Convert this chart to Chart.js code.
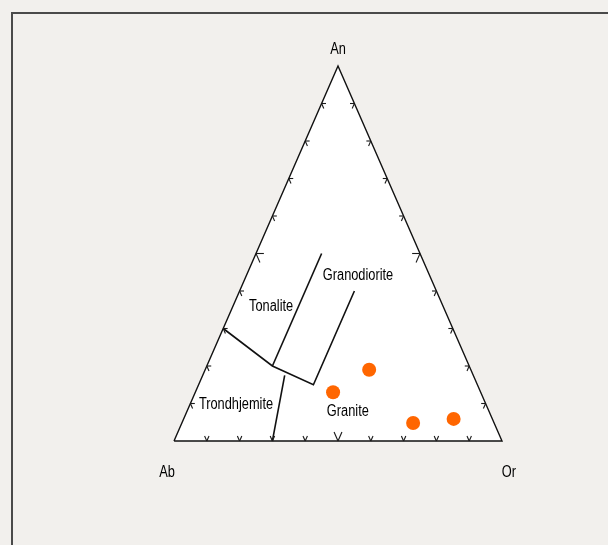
<!DOCTYPE html>
<html>
<head>
<meta charset="utf-8">
<script src="https://cdn.jsdelivr.net/npm/chart.js@4.4.1/dist/chart.umd.min.js"></script>
<style>
  html, body { margin: 0; padding: 0; background: #f2f0ed; overflow: hidden; }
  #wrap { position: relative; width: 608px; height: 545px; }
  #frame { position: absolute; left: 11px; top: 12px; width: 700px; height: 700px; border: 2px solid #4a4a4a; box-sizing: border-box; }
  canvas { position: absolute; left: 0; top: 0; }
</style>
</head>
<body>
<div id="wrap">
  <div id="frame"></div>
  <canvas id="c" width="608" height="545"></canvas>
</div>
<script>
// ---- Data (ternary percentages: An, Ab, Or) ----
const sampleAn = [19, 13, 4.8, 5.9];
const sampleAb = [31, 45, 24.7, 11.8];
const sampleOr = [50, 42, 70.5, 82.3];

// Field boundaries (An, Or; Ab = 100 - An - Or)
const boundary1An = [30, 20, 15, 40];
const boundary1Or = [0, 20, 35, 35];
const boundary2An = [20, 50];
const boundary2Or = [20, 20];
const boundary3An = [17.5, 0];
const boundary3Or = [25, 30];

// Tick positions along each edge (percent)
const tickValues = [10, 20, 30, 40, 50, 60, 70, 80, 90];

// Labels
const apexLabels = ['An', 'Ab', 'Or'];
const fieldLabels = ['Tonalite', 'Granodiorite', 'Trondhjemite', 'Granite'];

// ---- helpers ----
function tern(an, or) { return { x: (or + an / 2) / 100, y: an / 100 }; }
function line(anArr, orArr) { return anArr.map((a, i) => tern(a, orArr[i])); }

const trianglePts = [tern(0, 0), tern(0, 100), tern(100, 0), tern(0, 0)];
const samplePts = sampleAn.map((a, i) => tern(a, sampleOr[i]));

// label positions (cartesian fractions of triangle frame)
const apexPos = [{x: 0.5, y: 1.043}, {x: -0.021, y: -0.085}, {x: 1.021, y: -0.085}];
const fieldPos = [{x: 0.296, y: 0.358}, {x: 0.561, y: 0.442}, {x: 0.189, y: 0.096}, {x: 0.53, y: 0.078}];

const decoPlugin = {
  id: 'deco',
  afterDatasetsDraw(chart) {
    const ctx = chart.ctx, xs = chart.scales.x, ys = chart.scales.y;
    const px = p => ({ x: xs.getPixelForValue(p.x), y: ys.getPixelForValue(p.y) });
    // ticks
    ctx.save();
    ctx.strokeStyle = '#1a1a1a';
    ctx.lineWidth = 1.1;
    function arm(an, or, dAn, dOr, d) {
      const a = px(tern(an, or));
      const b = px(tern(an + dAn * d, or + dOr * d));
      ctx.beginPath(); ctx.moveTo(a.x, a.y); ctx.lineTo(b.x, b.y); ctx.stroke();
    }
    tickValues.forEach(t => {
      const d = t === 50 ? 2.4 : 1.35;
      arm(0, t, 1, 0, d);
      arm(0, t, 1, -1, d);
      arm(t, 0, 0, 1, d);
      arm(t, 0, -1, 1, d);
      arm(t, 100 - t, 0, -1, d);
      arm(t, 100 - t, -1, 0, d);
    });
    ctx.restore();
    // labels
    ctx.save();
    ctx.fillStyle = '#000';
    ctx.font = '16px "Liberation Sans", Arial, sans-serif';
    ctx.textAlign = 'center';
    ctx.textBaseline = 'middle';
    function txt(s, p) {
      const q = px(p);
      ctx.save();
      ctx.translate(q.x, q.y);
      ctx.scale(0.8, 1);
      ctx.fillText(s, 0, 0);
      ctx.restore();
    }
    apexLabels.forEach((s, i) => txt(s, apexPos[i]));
    fieldLabels.forEach((s, i) => txt(s, fieldPos[i]));
    ctx.restore();
  }
};

const lineStyle = { type: 'line', showLine: true, fill: false, borderColor: '#111', borderWidth: 1.6, pointRadius: 0, tension: 0, clip: false };

new Chart(document.getElementById('c'), {
  type: 'scatter',
  data: {
    datasets: [
      { type: 'scatter', data: samplePts, pointRadius: 7, pointBackgroundColor: '#ff6600', pointBorderWidth: 0, borderColor: 'rgba(0,0,0,0)', clip: false },
      { ...lineStyle, data: line(boundary1An, boundary1Or) },
      { ...lineStyle, data: line(boundary2An, boundary2Or) },
      { ...lineStyle, data: line(boundary3An, boundary3Or) },
      { ...lineStyle, data: trianglePts, fill: 'shape', backgroundColor: '#ffffff', borderWidth: 1.4 }
    ]
  },
  options: {
    responsive: false,
    animation: false,
    layout: { padding: { left: 174, right: 106, top: 66, bottom: 104 } },
    scales: {
      x: { type: 'linear', min: 0, max: 1, display: false },
      y: { type: 'linear', min: 0, max: 1, display: false }
    },
    plugins: { legend: { display: false }, tooltip: { enabled: false } }
  },
  plugins: [decoPlugin]
});
</script>
</body>
</html>
